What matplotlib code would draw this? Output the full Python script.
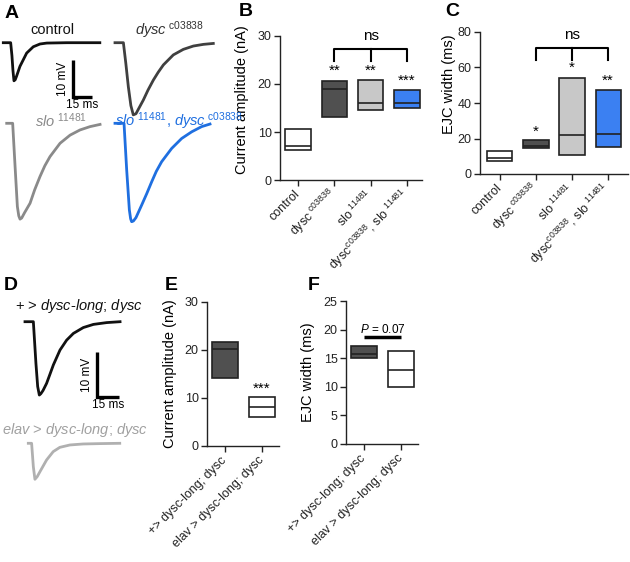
import numpy as np
import matplotlib
matplotlib.use('Agg')
import matplotlib.pyplot as plt

plt.rcParams['font.family'] = ['Liberation Sans', 'DejaVu Sans']
plt.rcParams['mathtext.fontset'] = 'custom'
plt.rcParams['mathtext.rm'] = 'Liberation Sans'
plt.rcParams['mathtext.it'] = 'Liberation Sans:italic'
plt.rcParams['mathtext.bf'] = 'Liberation Sans:bold'
plt.rcParams['axes.linewidth'] = 1.0

W, H = 630, 562

# ---- traces (time in ms, response in mV) ----
ctrl_t = [0, 5.8, 6.8, 7.6, 8.4, 9.4, 10.5, 13.1, 18.4, 23.6, 28.9, 34.2, 50, 76]
ctrl_v = [0, 0, -3.5, -7.5, -10.3, -10.0, -9.0, -6.4, -2.8, -1.1, -0.35, -0.1, 0, 0]

dysc_t = [0, 6.6, 8.5, 10.5, 12.5, 14.4, 16.5, 19, 22.3, 26, 30.2, 34, 38.1, 45.9, 53.8, 61.7, 69.6, 77.4]
dysc_v = [0, 0, -5.5, -11.9, -17, -19.5, -19.2, -17.6, -15.5, -12.8, -10.1, -8, -6.0, -3.3, -1.8, -0.9, -0.45, -0.2]

slo_t = [0, 4.7, 6.6, 8.4, 9.5, 10.5, 11.8, 14, 18.4, 22, 26.2, 30, 34.1, 42.0, 49.9, 57.7, 65.6, 73.5]
slo_v = [0, 0, -11.7, -22.5, -25, -25.9, -25.6, -24.2, -21.6, -18, -14.4, -11.5, -9.0, -5.4, -3.2, -1.8, -0.9, -0.3]

both_t = [0, 7.1, 9.2, 11.3, 12.3, 13.1, 14.5, 16.5, 21.0, 25, 28.9, 32.5, 36.7, 44.6, 52.5, 60.4, 68.2, 74.8]
both_v = [0, 0, -12.6, -23.4, -25.8, -26.6, -26.4, -25.5, -22.1, -19, -15.8, -13, -10.4, -6.8, -4.1, -2.3, -0.9, -0.2]

rescue_t = [0, 5.8, 7.6, 8.8, 9.95, 11.0, 12.5, 15.0, 17.3, 19.7, 24.3, 28.9, 33.6, 40.5, 47.5, 56.7, 66.0]
rescue_v = [0, 0, -9.3, -14.4, -16.3, -16.0, -15.3, -13.7, -11.7, -9.6, -6.3, -4.1, -2.6, -1.3, -0.6, -0.2, 0]

elav_t = [0, 2.3, 3.5, 4.6, 6.2, 8.1, 10.4, 12.7, 17.3, 21.9, 28.9, 38.1, 49.7, 63.5]
elav_v = [0, 0, -5.2, -8.0, -7.4, -6.3, -5.0, -3.7, -1.85, -0.9, -0.37, -0.15, -0.07, 0]

SCALE_MS = 15
SCALE_MV = 10

# ---- box data (min, median, max) ----
geno_labels = ['control',
               r'dysc$^{\ \mathrm{c03838}}$',
               r'slo$^{\ \mathrm{11481}}$',
               r'dysc$^{\mathrm{c03838}}$, slo$^{\ \mathrm{11481}}$']
amp_lo = [6.2, 13.2, 14.5, 15.0]
amp_med = [7.1, 19.0, 16.1, 16.1]
amp_hi = [10.6, 20.7, 20.9, 18.8]
amp_stars = ['', '**', '**', '***']
amp_star_y = [0, 22.8, 22.8, 20.7]

ejc_lo = [7.5, 14.6, 10.8, 15.0]
ejc_med = [9.0, 16.0, 21.8, 22.8]
ejc_hi = [12.8, 19.4, 54.0, 47.3]
ejc_stars = ['', '*', '*', '**']
ejc_star_y = [0, 23.7, 59.7, 52.4]

rescue_labels = ['+> dysc-long; dysc', 'elav > dysc-long; dysc']
r_amp_lo = [14.2, 6.0]
r_amp_med = [20.2, 8.1]
r_amp_hi = [21.7, 10.2]
r_ejc_lo = [15.1, 10.0]
r_ejc_med = [15.7, 13.0]
r_ejc_hi = [17.1, 16.2]

geno_colors = ['white', '#505050', '#c8c8c8', '#3b80f2']
rescue_colors = ['#505050', 'white']

fig = plt.figure(figsize=(W / 100, H / 100), dpi=100)


def px_axes(l, t, r, b):
    return fig.add_axes([l / W, 1 - b / H, (r - l) / W, (b - t) / H])


def trace_axes(x0, y0, ms_px, mv_px, w=102, down=110, up=50):
    ax = px_axes(x0 - 5, y0 - up, x0 + w, y0 + down)
    ax.set_xlim(-5 / ms_px, w / ms_px)
    ax.set_ylim(-down / mv_px, up / mv_px)
    ax.axis('off')
    return ax


def scale_bar(x0, y0, ms_px, mv_px):
    ax = trace_axes(x0, y0, ms_px, mv_px, w=40, down=20, up=60)
    ax.plot([0, 0, SCALE_MS], [SCALE_MV, 0, 0], color='black', lw=2.4,
            solid_joinstyle='miter', solid_capstyle='butt')
    ax.text(-3.5 / ms_px, SCALE_MV / 2, '%d mV' % SCALE_MV, rotation=90,
            ha='right', va='center', fontsize=8.5)
    ax.text(SCALE_MS / 2, -2 / mv_px, '%d ms' % SCALE_MS, ha='center', va='top', fontsize=8.5)


def box_panel(rect, lo, med, hi, colors, xlim, ylim, yticks, ylabel, labels, label_pos):
    ax = px_axes(*rect)
    x = np.arange(len(lo))
    lo, med, hi = np.array(lo), np.array(med), np.array(hi)
    ax.bar(x, hi - lo, bottom=lo, width=0.7, color=colors, edgecolor='#222222', linewidth=1.2, zorder=2)
    ax.hlines(med, x - 0.35, x + 0.35, color='#222222', lw=1.2, zorder=3)
    ax.set_xlim(*xlim)
    ax.set_ylim(*ylim)
    ax.set_yticks(yticks)
    ax.set_xticks(x)
    ax.set_xticklabels(labels, rotation=45, ha='right', va='center', rotation_mode='anchor', fontsize=10)
    ax.tick_params(direction='out', length=4, width=1, labelsize=9, colors='#222222', pad=2)
    ax.tick_params(axis='x', pad=5)
    for s in ['top', 'right']:
        ax.spines[s].set_visible(False)
    for s in ['left', 'bottom']:
        ax.spines[s].set_color('#222222')
    ax.set_ylabel(ylabel, fontsize=10.5)
    ax.yaxis.set_label_coords(*label_pos)
    return ax


def bracket(ax, y_top, y_end, text):
    ax.plot([1, 1, 3, 3], [y_end, y_top, y_top, y_end], color='black', lw=1.5)
    ax.plot([2, 2], [y_top, y_end], color='black', lw=1.5)
    ax.text(2, y_top + (y_top - y_end) * 1.15, text, ha='center', va='center', fontsize=11)


# ---- panel A ----
A_MS, A_MV = 1.27, 3.7
ax = trace_axes(3.3, 42.7, A_MS, A_MV)
ax.plot(ctrl_t, ctrl_v, color='#111111', lw=2)
ax = trace_axes(115, 42.7, A_MS, A_MV)
ax.plot(dysc_t, dysc_v, color='#404040', lw=2)
ax = trace_axes(6.7, 123.3, A_MS, A_MV)
ax.plot(slo_t, slo_v, color='#8a8a8a', lw=2)
ax = trace_axes(115, 123.3, A_MS, A_MV)
ax.plot(both_t, both_v, color='#1f6fe0', lw=2)
scale_bar(73, 97, A_MS, A_MV)

fig.text(52 / W, 1 - 30 / H, 'control', ha='center', va='center', fontsize=10.5, color='#111111')
fig.text(135 / W, 1 - 30 / H, r'$\mathit{dysc}^{\ \mathrm{c03838}}$', ha='left', va='center',
         fontsize=10.5, color='#333333')
fig.text(35 / W, 1 - 121 / H, r'$\mathit{slo}^{\ 11481}$', ha='left', va='center',
         fontsize=10.5, color='#8a8a8a')
fig.text(115 / W, 1 - 121 / H, r'$\mathit{slo}^{\ 11481}$, $\mathit{dysc}^{\ \mathrm{c03838}}$',
         ha='left', va='center', fontsize=10.5, color='#1f6fe0')

# ---- panel D ----
D_MS, D_MV = 1.44, 4.5
ax = trace_axes(25, 321.7, D_MS, D_MV)
ax.plot(rescue_t, rescue_v, color='#111111', lw=2)
ax = trace_axes(28.3, 443.3, D_MS, D_MV)
ax.plot(elav_t, elav_v, color='#b0b0b0', lw=2)
scale_bar(97, 397, D_MS, D_MV)

fig.text(15 / W, 1 - 306 / H, r'+ > $\mathit{dysc}$-$\mathit{long}$; $\mathit{dysc}$',
         ha='left', va='center', fontsize=10.5, color='#111111')
fig.text(2 / W, 1 - 430 / H, r'$\mathit{elav}$ > $\mathit{dysc}$-$\mathit{long}$; $\mathit{dysc}$',
         ha='left', va='center', fontsize=10.5, color='#a0a0a0')

# ---- panel B ----
axB = box_panel((280, 36, 422, 180), amp_lo, amp_med, amp_hi, geno_colors,
                (-0.49, 3.41), (0, 30), [0, 10, 20, 30], 'Current amplitude (nA)',
                geno_labels, (-0.22, 0.56))
for i, s in enumerate(amp_stars):
    if s:
        axB.text(i, amp_star_y[i], s, ha='center', va='center', fontsize=11)
bracket(axB, 27.2, 24.8, 'ns')

# ---- panel C ----
axC = box_panel((480, 32, 628, 174), ejc_lo, ejc_med, ejc_hi, geno_colors,
                (-0.55, 3.55), (0, 80), [0, 20, 40, 60, 80], 'EJC width (ms)',
                geno_labels, (-0.16, 0.63))
for i, s in enumerate(ejc_stars):
    if s:
        axC.text(i, ejc_star_y[i], s, ha='center', va='center', fontsize=11)
bracket(axC, 71, 64.5, 'ns')

# ---- panel E ----
axE = box_panel((207, 302, 279, 446), r_amp_lo, r_amp_med, r_amp_hi, rescue_colors,
                (-0.49, 1.46), (0, 30), [0, 10, 20, 30], 'Current amplitude (nA)',
                rescue_labels, (-0.42, 0.5))
axE.text(1, 12, '***', ha='center', va='center', fontsize=11)

# ---- panel F ----
axF = box_panel((346, 301, 418, 444), r_ejc_lo, r_ejc_med, r_ejc_hi, rescue_colors,
                (-0.49, 1.46), (0, 25), [0, 5, 10, 15, 20, 25], 'EJC width (ms)',
                rescue_labels, (-0.43, 0.5))
axF.plot([0, 1], [18.7, 18.7], color='black', lw=2.5, solid_capstyle='butt')
axF.text(0.5, 20.0, r'$\mathit{P}$ = 0.07', ha='center', va='center', fontsize=8.5)

# ---- panel letters ----
for letter, (lx, ly) in {'A': (5, 13), 'B': (239, 12), 'C': (445, 12),
                         'D': (4, 286), 'E': (165, 286), 'F': (308, 286)}.items():
    fig.text(lx / W, 1 - ly / H, letter, ha='left', va='center', fontsize=14, weight='bold')

fig.savefig('out.png', dpi=100)
